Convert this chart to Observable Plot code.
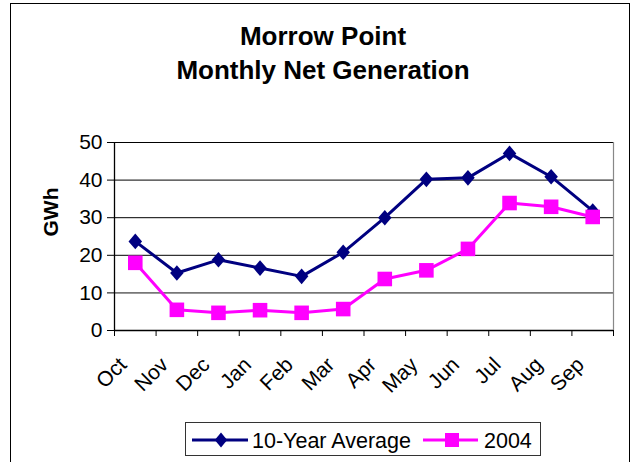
<!DOCTYPE html>
<html>
<head>
<meta charset="utf-8">
<script src="https://cdn.jsdelivr.net/npm/d3@7"></script>
<script src="https://cdn.jsdelivr.net/npm/@observablehq/plot@0.6"></script>
<style>
  html, body { margin: 0; padding: 0; background: #fff; }
  body { width: 637px; height: 462px; overflow: hidden; position: relative; font-family: "Liberation Sans", Arial, sans-serif; }
  #frame { position: absolute; left: 10px; top: 3px; width: 620px; height: 520px; border: 1.5px solid #000; box-sizing: border-box; }
  .title { position: absolute; left: 0; width: 646px; text-align: center; font-weight: bold; font-size: 26px; line-height: 30px; color: #000; }
  #chart { position: absolute; left: 0; top: 0; }
  #legend { position: absolute; left: 185px; top: 422px; width: 356px; height: 34px; border: 1px solid #333; box-sizing: border-box; background: #fff; }
  #legend svg { position: absolute; left: 0; top: 0; }
</style>
</head>
<body>
<div id="frame"></div>
<div class="title" style="top:21px">Morrow Point</div>
<div class="title" style="top:55px">Monthly Net Generation</div>
<div id="chart"></div>
<div id="legend"></div>
<script>
const months = ["Oct","Nov","Dec","Jan","Feb","Mar","Apr","May","Jun","Jul","Aug","Sep"];
const avg10 = [23.7, 15.3, 18.8, 16.6, 14.4, 20.8, 30.0, 40.2, 40.6, 47.1, 40.9, 31.8];
const y2004 = [18.0, 5.5, 4.7, 5.4, 4.7, 5.7, 13.7, 16.0, 21.7, 33.9, 32.9, 30.2];
const seriesNames = ["10-Year Average", "2004"];
const seriesColors = ["#000080", "#FF00FF"];
const yTicks = [0, 10, 20, 30, 40, 50];
const yLabel = "GWh";

const diamond = {draw(ctx, size) {
  const r = Math.sqrt(size / Math.PI);
  const a = 1.3 * r, b = 1.5 * r;
  ctx.moveTo(0, -b); ctx.lineTo(a, 0); ctx.lineTo(0, b); ctx.lineTo(-a, 0); ctx.closePath();
}};
const square = {draw(ctx, size) {
  const r = Math.sqrt(size / Math.PI);
  const h = 0.9 * r;
  ctx.rect(-h, -h, 2 * h, 2 * h);
}};

const rowsA = months.map((m, i) => ({i: i + 0.5, m, v: avg10[i]}));
const rowsB = months.map((m, i) => ({i: i + 0.5, m, v: y2004[i]}));
const labels = months.map((m, i) => ({i: i + 0.5, m}));

const plot = Plot.plot({
  width: 637,
  height: 462,
  marginLeft: 114,
  marginRight: 24,
  marginTop: 142,
  marginBottom: 132,
  style: {fontFamily: "'Liberation Sans', Arial, sans-serif", fontSize: "21px", background: "transparent", color: "#000"},
  x: {domain: [0, months.length]},
  y: {domain: [0, 50]},
  marks: [
    Plot.ruleY(yTicks.filter(d => d > 0 && d !== 10), {stroke: "#000", strokeWidth: 1}),
    Plot.ruleY([10], {stroke: "#777", strokeWidth: 1.6}),
    Plot.ruleX([months.length], {stroke: "#888", strokeWidth: 1.2}),
    Plot.ruleX([0], {stroke: "#000", strokeWidth: 1.3}),
    Plot.ruleY([0], {stroke: "#000", strokeWidth: 1.3}),
    Plot.axisY({ticks: yTicks, tickSize: 7, tickPadding: 5, label: null, stroke: "#000", fill: "#000"}),
    Plot.axisX({ticks: d3.range(months.length + 1), tickSize: 6, tickFormat: () => "", label: null, stroke: "#000"}),
    Plot.text(labels, {x: "i", y: () => 0, text: "m", rotate: -45, textAnchor: "end", lineAnchor: "top", dx: -18, dy: 25, fill: "#000"}),
    Plot.text([yLabel], {frameAnchor: "left", dx: -63, rotate: -90, fontWeight: "bold", fontSize: 21, fill: "#000"}),
    Plot.line(rowsA, {x: "i", y: "v", stroke: seriesColors[0], strokeWidth: 3}),
    Plot.dot(rowsA, {x: "i", y: "v", symbol: diamond, r: 5.2, fill: seriesColors[0], stroke: "none"}),
    Plot.line(rowsB, {x: "i", y: "v", stroke: seriesColors[1], strokeWidth: 3}),
    Plot.dot(rowsB, {x: "i", y: "v", symbol: square, r: 8.1, fill: seriesColors[1], stroke: "none"})
  ]
});
document.getElementById("chart").appendChild(plot);

// Legend
const lg = d3.select("#legend").append("svg").attr("width", 356).attr("height", 34);
const items = [
  {name: seriesNames[0], color: seriesColors[0], x0: 6, x1: 62, cx: 35, sym: "diamond", tx: 66},
  {name: seriesNames[1], color: seriesColors[1], x0: 237, x1: 292, cx: 266, sym: "square", tx: 298}
];
items.forEach(it => {
  lg.append("line").attr("x1", it.x0).attr("x2", it.x1).attr("y1", 17).attr("y2", 17)
    .attr("stroke", it.color).attr("stroke-width", 3);
  if (it.sym === "diamond") {
    lg.append("path").attr("d", `M${it.cx},${17-7.5}L${it.cx+6.2},17L${it.cx},${17+7.5}L${it.cx-6.2},17Z`).attr("fill", it.color);
  } else {
    lg.append("rect").attr("x", it.cx - 7).attr("y", 10).attr("width", 14).attr("height", 14).attr("fill", it.color);
  }
  lg.append("text").attr("x", it.tx).attr("y", 17).attr("dy", "0.35em")
    .attr("font-family", "'Liberation Sans', Arial, sans-serif").attr("font-size", 21.5).attr("fill", "#000").text(it.name);
});
</script>
</body>
</html>
